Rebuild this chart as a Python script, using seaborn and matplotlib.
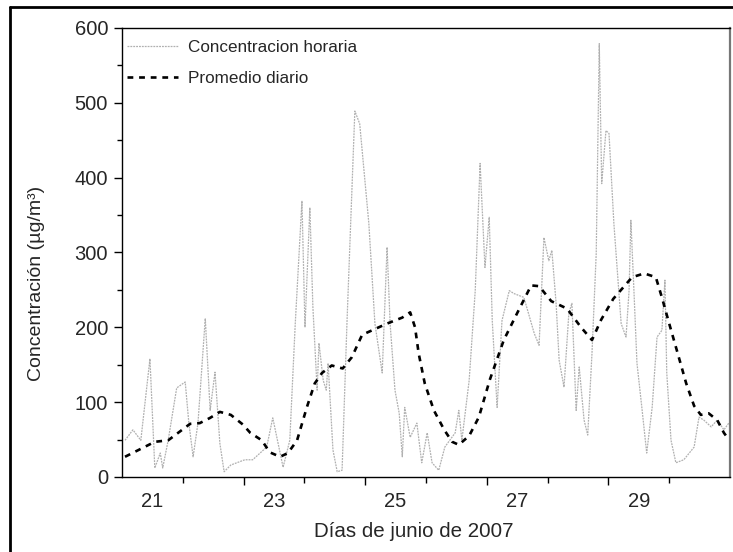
import matplotlib
matplotlib.use("Agg")
import matplotlib.pyplot as plt
from matplotlib.lines import Line2D
import seaborn as sns
import pandas as pd

# Hourly concentration (day of June 2007, ug/m3)
hora_dia = [20.55, 20.68, 20.81, 20.96, 21.04, 21.13, 21.17, 21.26, 21.40, 21.54,
            21.60, 21.67, 21.75, 21.87, 21.95, 22.03, 22.11, 22.18, 22.29, 22.52,
            22.65, 22.88, 22.98, 23.15, 23.26, 23.35, 23.46, 23.51, 23.59, 23.64,
            23.71, 23.74, 23.81, 23.86, 23.89, 23.97, 24.04, 24.12, 24.20, 24.33,
            24.41, 24.56, 24.66, 24.78, 24.86, 24.91, 24.99, 25.06, 25.11, 25.15,
            25.24, 25.35, 25.43, 25.52, 25.60, 25.71, 25.81, 25.98, 26.04, 26.09,
            26.21, 26.31, 26.39, 26.47, 26.54, 26.59, 26.67, 26.75, 26.87, 26.95,
            27.11, 27.28, 27.36, 27.44, 27.52, 27.57, 27.64, 27.69, 27.77, 27.85,
            27.90, 27.97, 28.02, 28.10, 28.16, 28.23, 28.30, 28.35, 28.39, 28.46,
            28.51, 28.59, 28.71, 28.79, 28.84, 28.87, 28.92, 28.97, 29.05, 29.13,
            29.22, 29.30, 29.38, 29.43, 29.46, 29.53, 29.61, 29.74, 29.91, 29.99,
            30.07, 30.19, 30.29, 30.40, 30.48]
hora_conc = [49, 63, 49, 158, 12, 32, 12, 49, 119, 127,
             72, 27, 72, 212, 89, 140, 45, 7, 16, 23,
             23, 40, 79, 13, 49, 205, 369, 200, 360, 227,
             116, 179, 129, 116, 152, 36, 7, 9, 205, 489,
             472, 339, 205, 139, 307, 205, 116, 85, 27, 93,
             53, 72, 19, 59, 19, 9, 40, 59, 89, 49,
             129, 249, 419, 280, 347, 209, 93, 209, 249, 245,
             240, 192, 176, 320, 289, 303, 232, 156, 120, 219,
             232, 89, 147, 76, 56, 165, 299, 579, 392, 463,
             459, 339, 205, 187, 249, 343, 249, 152, 93, 32,
             93, 187, 196, 263, 139, 49, 19, 23, 40, 80,
             76, 67, 76, 63, 72]

# Daily running average
prom_dia = [20.55, 21.04, 21.26, 21.62, 21.78, 21.95, 22.11, 22.29, 22.49, 22.61,
            22.80, 22.93, 23.10, 23.23, 23.38, 23.54, 23.67, 23.79, 23.95, 24.13,
            24.28, 24.45, 24.86, 25.11, 25.24, 25.32, 25.38, 25.48, 25.63, 25.80,
            25.93, 26.04, 26.21, 26.37, 26.55, 26.78, 27.00, 27.23, 27.36, 27.56,
            27.82, 28.05, 28.23, 28.38, 28.58, 28.89, 29.09, 29.28, 29.38, 29.50,
            29.63, 29.78, 29.91, 30.02, 30.15, 30.29, 30.40, 30.48]
prom_conc = [27, 47, 49, 71, 72, 79, 87, 83, 70, 59,
             49, 33, 27, 32, 49, 93, 125, 139, 149, 145,
             160, 190, 205, 213, 220, 200, 165, 125, 89, 63,
             47, 43, 55, 80, 130, 183, 219, 256, 255, 235,
             225, 200, 183, 210, 238, 267, 272, 267, 240, 205,
             168, 125, 95, 83, 85, 76, 59, 50]

dias_etiqueta = [21, 23, 25, 27, 29]

df_hora = pd.DataFrame({"dia": hora_dia, "conc": hora_conc})
df_prom = pd.DataFrame({"dia": prom_dia, "conc": prom_conc})

sns.set_theme(style="ticks")
plt.rcParams["font.family"] = ["Liberation Sans", "DejaVu Sans"]

fig = plt.figure(figsize=(7.33, 5.52), dpi=100)
ax = fig.add_axes([0.1664, 0.1359, 0.8295, 0.8134])

sns.lineplot(data=df_hora, x="dia", y="conc", ax=ax, color="#b0b0b0",
             linewidth=0.9, estimator=None, sort=False,
             label="Concentracion horaria")
sns.lineplot(data=df_prom, x="dia", y="conc", ax=ax, color="black",
             linewidth=1.9, estimator=None, sort=False,
             label="Promedio diario")
ax.lines[0].set_dashes([1.5, 0.8])
ax.lines[1].set_dashes([2.2, 2.2])

ax.set_xlim(20.5, 30.5)
ax.set_ylim(0, 600)

# tick marks at day boundaries, labels at mid-day
ax.set_xticks([22.5, 24.5, 26.5, 28.5])
ax.set_xticks([21.5, 23.5, 25.5, 27.5, 29.5], minor=True)
ax.tick_params(axis="x", which="major", length=6, width=1, labelbottom=False,
               direction="out", color="black")
ax.tick_params(axis="x", which="minor", length=4, width=1, direction="out",
               color="black")
sec = ax.secondary_xaxis("bottom")
sec.set_xticks(dias_etiqueta)
sec.set_xticklabels([str(d) for d in dias_etiqueta])
sec.tick_params(length=0, pad=11, labelsize=14.5)
sec.spines["bottom"].set_visible(False)

ax.set_yticks(range(0, 601, 100))
ax.set_yticks(range(50, 600, 100), minor=True)
ax.tick_params(axis="y", which="major", length=6, width=1, direction="out",
               labelsize=14.5, pad=4, color="black")
ax.tick_params(axis="y", which="minor", length=3.5, width=1, direction="out",
               color="black")

for s in ax.spines.values():
    s.set_color("black")
    s.set_linewidth(1.0)
ax.spines["right"].set_color("#777777")
ax.spines["right"].set_linewidth(1.6)

ax.set_xlabel("")
ax.set_ylabel("Concentración (µg/m³)", fontsize=14)
ax.yaxis.set_label_coords(-0.127, 0.43)
fig.text(0.5645, 0.027, "Días de junio de 2007", ha="center", va="baseline",
         fontsize=14.8)

ax.legend(loc="upper left", bbox_to_anchor=(-0.012, 1.0), frameon=False,
          fontsize=12.3, handlelength=3.0, handletextpad=0.6,
          labelspacing=0.95, borderaxespad=0.3)

# outer frame of the figure panel
fig.add_artist(Line2D([10 / 733, 1.0], [1 - 7 / 552, 1 - 7 / 552],
                      transform=fig.transFigure, color="black", linewidth=2))
fig.add_artist(Line2D([10 / 733, 10 / 733], [0.0, 1 - 7 / 552],
                      transform=fig.transFigure, color="black", linewidth=2))

fig.savefig("out.png", dpi=100)
